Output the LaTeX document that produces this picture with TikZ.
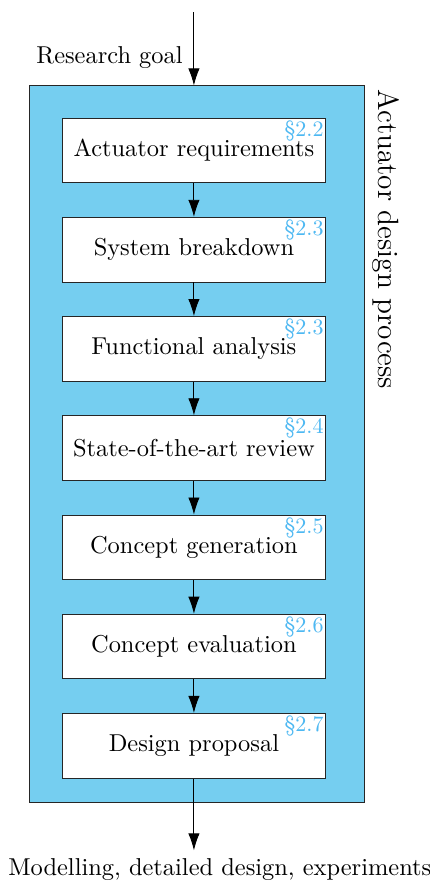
\documentclass[tikz,border=0pt]{standalone}
\usepackage{amsmath}
\usepackage{amssymb}
\usetikzlibrary{positioning,arrows.meta}

\definecolor{procblue}{HTML}{75CEF0}
\definecolor{secblue}{HTML}{4DB8F2}

\begin{document}
\begin{tikzpicture}[%
    >={Latex[length=7.5pt,width=5pt]},
    node distance=0.521cm,
    font=\fontsize{10.75}{13}\selectfont,
    stepbox/.style={draw=black!85, fill=white, minimum width=4.08cm, minimum height=1.0cm},
    procbox/.style={draw=black!85, fill=procblue, minimum width=5.18cm, minimum height=11.085cm},
    seclabel/.style={anchor=north east, inner sep=1pt, font=\fontsize{9.7}{11}\selectfont, text=secblue}
    ]
    \useasboundingbox (0,0) rectangle (6.65,-13.66);

    \node[procbox] (proc) at (3.053,-6.872) {};
    \node[rotate=-90, anchor=south west, inner xsep=1.7pt, inner ysep=3pt, font=\fontsize{12.9}{15}\selectfont] (proclabel) at (proc.north east) {Actuator design process};

    \node[stepbox] (req) at (3.0,-2.327) {Actuator requirements};
    \node[stepbox, below=of req] (brk) {System breakdown};
    \node[stepbox, below=of brk] (func) {Functional analysis};
    \node[stepbox, below=of func] (sota) {State-of-the-art review};
    \node[stepbox, below=of sota] (gen) {Concept generation};
    \node[stepbox, below=of gen] (eval) {Concept evaluation};
    \node[stepbox, below=of eval] (prop) {Design proposal};

    % section references
    \node[seclabel] (s1) at (req.north east) {\S2.2};
    \node[seclabel] (s2) at (brk.north east) {\S2.3};
    \node[seclabel] (s3) at (func.north east) {\S2.3};
    \node[seclabel] (s4) at (sota.north east) {\S2.4};
    \node[seclabel] (s5) at (gen.north east) {\S2.5};
    \node[seclabel] (s6) at (eval.north east) {\S2.6};
    \node[seclabel] (s7) at (prop.north east) {\S2.7};

    \coordinate (top) at (3.0,-0.186);
    \node (out) at (3.40,-13.45) {Modelling, detailed design, experiments};

    \draw[->] (top) -- node[left, pos=0.62, xshift=-0.5mm] (goal) {Research goal} (req.north |- proc.north);
    \draw[->] (req) -- (brk);
    \draw[->] (brk) -- (func);
    \draw[->] (func) -- (sota);
    \draw[->] (sota) -- (gen);
    \draw[->] (gen) -- (eval);
    \draw[->] (eval) -- (prop);
    \draw[->] (prop) -- (prop.south |- out.north);
\end{tikzpicture}
\end{document}
